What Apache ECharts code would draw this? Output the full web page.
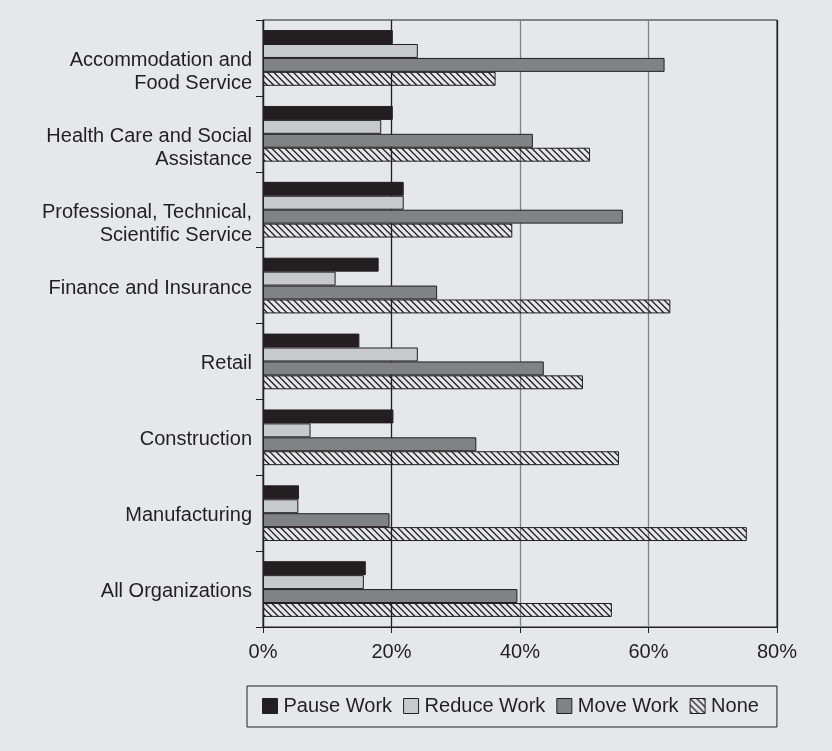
<!DOCTYPE html>
<html>
<head>
<meta charset="utf-8">
<script src="https://cdn.jsdelivr.net/npm/echarts@6/dist/echarts.min.js"></script>
<style>
  html, body { margin: 0; padding: 0; background: #e6e7e8; }
  #chart { width: 832px; height: 751px; }
</style>
</head>
<body>
<div id="chart"></div>
<script>
const categories = [
  'Accommodation and\nFood Service',
  'Health Care and Social\nAssistance',
  'Professional, Technical,\nScientific Service',
  'Finance and Insurance',
  'Retail',
  'Construction',
  'Manufacturing',
  'All Organizations'
];
const seriesNames = ['Pause Work', 'Reduce Work', 'Move Work', 'None'];
const pauseWork  = [20.2, 20.2, 21.9, 18.0, 15.0, 20.3, 5.6, 16.0];
const reduceWork = [24.1, 18.4, 21.9, 11.3, 24.1, 7.4, 5.5, 15.7];
const moveWork   = [62.5, 42.0, 56.0, 27.1, 43.7, 33.2, 19.7, 39.6];
const noneValues = [36.2, 50.9, 38.8, 63.4, 49.8, 55.4, 75.3, 54.3];
const xTicks = [0, 20, 40, 60, 80];

function hatch() {
  const s = 6.5;
  const c = document.createElement('canvas');
  c.width = 13; c.height = 13;
  const g = c.getContext('2d');
  g.strokeStyle = '#231f20';
  g.lineWidth = 1.3;
  g.beginPath();
  for (let k = -2; k <= 2; k++) {
    g.moveTo(k * s - 1, -1); g.lineTo(k * s + 14, 14);
  }
  g.stroke();
  return { image: c, repeat: 'repeat' };
}

const colors = ['#231f20', '#c8c9cb', '#808285', hatch()];
const values = [pauseWork, reduceWork, moveWork, noneValues];
const font = '"Liberation Sans", Arial, Helvetica, sans-serif';

const chart = echarts.init(document.getElementById('chart'));
chart.setOption({
  backgroundColor: '#e6e7e8',
  animation: false,
  textStyle: { fontFamily: font, color: '#231f20' },
  grid: {
    left: 263, top: 20, width: 514, height: 607,
    show: true, borderColor: '#231f20', borderWidth: 1,
    backgroundColor: 'transparent'
  },
  legend: {
    data: seriesNames,
    left: 247, top: 686,
    padding: [10, 18, 11, 15],
    itemWidth: 15, itemHeight: 15, itemGap: 11,
    borderColor: '#231f20', borderWidth: 1,
    icon: 'rect',
    itemStyle: { borderColor: '#231f20', borderWidth: 1 },
    textStyle: { fontSize: 20, fontFamily: font, color: '#231f20', padding: [0, 0, 0, 1] }
  },
  xAxis: {
    type: 'value', min: xTicks[0], max: xTicks[xTicks.length - 1], interval: 20,
    axisLine: { show: true, lineStyle: { color: '#231f20', width: 1.2 } },
    axisTick: { show: true, length: 6, lineStyle: { color: '#231f20', width: 1 } },
    axisLabel: { formatter: '{value}%', fontSize: 20, color: '#231f20', margin: 15, fontFamily: font },
    splitLine: { show: true, lineStyle: { color: ['#231f20', '#231f20', '#808285', '#808285', '#231f20'], width: 1.3 } }
  },
  yAxis: {
    type: 'category', data: categories, inverse: true,
    axisLine: { show: true, lineStyle: { color: '#231f20', width: 1.2 } },
    axisTick: { show: true, length: 7, lineStyle: { color: '#231f20', width: 1 } },
    axisLabel: {
      fontSize: 20, lineHeight: 23, color: '#231f20', margin: 11, fontFamily: font,
      align: 'right', verticalAlign: 'middle',
      formatter: v => {
        const lines = v.split('\n');
        const sp = lines.length > 1 ? '{s2| }' : '{s1| }';
        return sp + '\n' + lines.map(l => '{t|' + l + '}').join('\n');
      },
      rich: {
        s1: { height: 5, lineHeight: 5, fontSize: 2 },
        s2: { height: 28, lineHeight: 28, fontSize: 2 },
        t: { fontSize: 20, lineHeight: 23, height: 23, color: '#231f20', fontFamily: font, align: 'right' }
      }
    }
  },
  series: seriesNames.map((name, i) => ({
    name, type: 'bar', data: values[i],
    barGap: '0%', barCategoryGap: '26.6%',
    itemStyle: { color: colors[i], borderColor: '#231f20', borderWidth: 1 },
    emphasis: { disabled: true }
  }))
});
</script>
</body>
</html>
